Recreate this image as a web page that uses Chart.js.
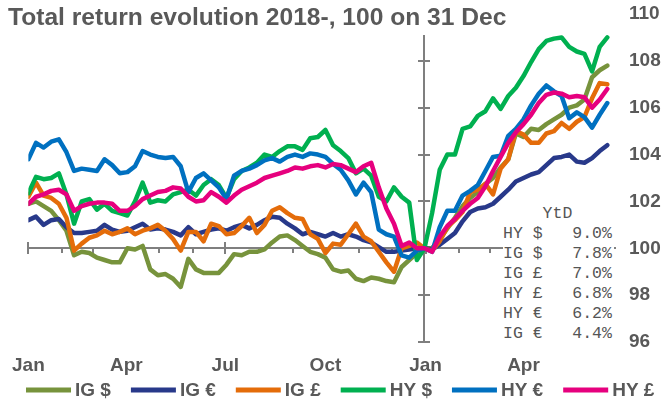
<!DOCTYPE html>
<html>
<head>
<meta charset="utf-8">
<script src="https://cdn.jsdelivr.net/npm/chart.js@4.4.1/dist/chart.umd.min.js"></script>
<style>
  html, body { margin: 0; padding: 0; background: #fff; }
  #wrap { position: relative; width: 667px; height: 406px; overflow: hidden; }
  #chart { position: absolute; left: 0; top: 0; }
  #title { position: absolute; left: 8px; top: 3px; font: bold 24.6px 'Liberation Sans', Arial, sans-serif;
           color: #595959; white-space: nowrap; }
  #ytd { position: absolute; left: 503px; top: 204px; margin: 0; padding: 0 2px 0 0; background: #fff;
         font: 16.5px/20px 'Liberation Mono', 'Courier New', monospace; color: #555; white-space: pre; }
</style>
</head>
<body>
<div id="wrap">
  <canvas id="chart" width="667" height="406"></canvas>
  <div id="title">Total return evolution 2018-, 100 on 31 Dec</div>
  <pre id="ytd"></pre>
</div>
<script>
// Weekly index levels, rebased to 100 on 31 Dec 2018 (week 52)
const igUSD = [101.9, 102.0, 101.8, 101.6, 101.2, 100.75, 99.7, 99.85, 99.8, 99.6,
  99.5, 99.4, 99.4, 100.0, 99.95, 100.1, 99.1, 98.85, 98.9, 98.7,
  98.35, 99.55, 99.1, 98.95, 98.95, 98.95, 99.3, 99.75, 99.7, 99.85,
  99.85, 99.95, 100.25, 100.5, 100.55, 100.35, 100.1, 99.85, 99.75, 99.6,
  99.1, 99.0, 99.05, 98.7, 98.6, 98.75, 98.7, 98.6, 98.55, 99.2,
  99.5, 99.8, 100,
  100.0, 100.4, 100.85, 101.3, 101.8, 102.15, 102.4, 102.75, 103.0, 103.45,
  103.8, 104.9, 104.75, 105.1, 105.05, 105.3, 105.5, 105.7, 106.0, 106.1,
  106.35, 107.3, 107.6, 107.8];

const igEUR = [101.2, 101.35, 101.0, 101.2, 101.25, 100.9, 100.65, 100.65, 100.7, 100.75,
  101.0, 100.8, 100.7, 100.75, 100.9, 101.05, 100.8, 100.85, 100.8, 100.7,
  100.55, 100.9, 100.6, 100.7, 100.8, 100.85, 100.75, 100.9, 101.0, 100.85,
  101.0, 101.2, 101.35, 101.3, 101.05, 100.85, 100.6, 100.7, 100.6, 100.5,
  100.65, 100.5, 100.6, 100.5, 100.35, 100.25, 100.05, 99.85, 99.85, 99.9,
  99.95, 100.0, 100,
  99.95, 100.15, 100.4, 100.65, 101.15, 101.55, 101.7, 101.75, 101.9, 102.2,
  102.5, 102.85, 103.0, 103.15, 103.25, 103.55, 103.85, 103.9, 104.0, 103.7,
  103.65, 103.85, 104.15, 104.4];

const igGBP = [102.2, 102.8, 102.25, 102.15, 101.9, 101.3, 99.9, 100.2, 100.45, 100.55,
  100.75, 100.6, 100.7, 100.85, 100.6, 100.75, 100.85, 101.0, 100.75, 100.4,
  99.9, 100.7, 100.7, 100.3, 101.05, 100.95, 100.6, 100.65, 100.95, 101.3,
  100.65, 101.0, 101.6, 101.75, 101.5, 101.3, 101.25, 100.6, 100.4, 99.8,
  100.2, 100.15, 100.6, 101.05, 100.5, 100.3, 99.85, 99.4, 99.0, 100.0,
  100.1, 100.25, 100,
  99.9, 100.3, 100.9, 101.2, 101.55, 102.4, 102.5, 102.75, 102.3, 103.4,
  103.8, 105.0, 104.85, 104.5, 104.5, 104.9, 105.0, 105.35, 105.1, 105.4,
  105.6, 106.4, 107.05, 107.0];

const hyUSD = [102.35, 103.05, 102.95, 103.0, 103.2, 102.3, 101.05, 102.0, 102.1, 101.65,
  101.9, 101.6, 101.5, 101.4, 102.0, 102.8, 101.95, 102.05, 102.0, 102.3,
  102.4, 102.5, 102.25, 102.7, 102.95, 102.7, 102.15, 102.95, 103.3, 103.45,
  103.65, 104.0, 103.9, 104.15, 104.35, 104.35, 104.2, 104.7, 104.75, 105.05,
  104.4, 104.15, 103.85, 103.2, 103.4, 103.1, 102.2, 102.0, 102.6, 102.2,
  101.95, 99.5, 100,
  101.5, 103.35, 104.0, 104.0, 105.1, 105.2, 105.65, 105.85, 106.4, 105.95,
  106.5, 106.85, 107.35, 107.95, 108.5, 108.85, 108.95, 109.0, 108.6, 108.4,
  108.3, 107.55, 108.6, 109.0];

const hyEUR = [103.8, 104.5, 104.3, 104.55, 104.65, 104.1, 103.3, 103.4, 103.35, 103.3,
  103.8, 103.55, 103.2, 103.25, 103.5, 104.15, 104.0, 103.9, 103.85, 103.9,
  103.5, 102.4, 103.0, 103.2, 102.9, 102.6, 102.1, 103.1, 103.3, 103.4,
  103.55, 103.75, 103.85, 103.7, 103.9, 104.0, 103.9, 104.05, 104.0, 103.9,
  103.6, 103.35, 102.9, 102.3, 102.8, 102.4, 100.8, 100.6, 100.5, 99.7,
  99.6, 99.9, 100,
  99.85, 100.9, 101.6, 101.6, 102.25, 102.45, 102.7, 103.3, 103.9, 103.95,
  104.8, 105.1, 105.5, 106.1, 106.6, 106.95, 106.7, 106.5, 105.55, 105.8,
  105.6, 105.15, 105.7, 106.2];

const hyGBP = [101.9, 102.2, 102.3, 102.45, 102.5, 102.3, 101.6, 101.8, 101.9, 101.95,
  101.95, 101.9, 101.6, 101.6, 101.8, 102.1, 102.25, 102.4, 102.45, 102.6,
  102.55, 102.2, 102.0, 102.05, 102.4, 102.2, 101.95, 102.25, 102.5, 102.65,
  102.8, 103.0, 103.1, 103.2, 103.3, 103.45, 103.4, 103.5, 103.55, 103.45,
  103.6, 103.55, 103.4, 103.25, 103.5, 103.65, 102.6, 101.7, 101.05, 100.1,
  100.25, 100.0, 100,
  99.85, 100.5, 100.95, 101.25, 101.6, 101.9, 102.15, 102.65, 103.3, 103.9,
  104.5, 104.95, 105.3, 105.7, 106.2, 106.55, 106.65, 106.6, 106.45, 106.5,
  106.45, 106.0, 106.35, 106.8];

const seriesNames = ['IG $', 'IG €', 'IG £', 'HY $', 'HY €', 'HY £'];
const seriesValues = [igUSD, igEUR, igGBP, hyUSD, hyEUR, hyGBP];
const seriesColors = ['#77933C', '#28398A', '#E46C0A', '#00B050', '#0070C0', '#E6007E'];

// Axis: days since 1 Jan 2018
const monthStarts = [0, 31, 59, 90, 120, 151, 181, 212, 243, 273, 304, 334, 365, 396, 424, 455, 485, 516];
const halfYearStarts = [0, 181, 365];
const quarterDays = [0, 90, 181, 273, 365, 455];
const quarterLabels = ['Jan', 'Apr', 'Jul', 'Oct', 'Jan', 'Apr'];
const yearEndDay = 364;
const valueTicks = [96, 98, 100, 102, 104, 106, 108, 110];

const days = igUSD.map((_, i) => i * 7);

const FONT = "'Liberation Sans', Arial, sans-serif";
const GREY = '#595959';

// YtD table, sorted by total return
const ytdRows = seriesNames
  .map((name, i) => ({ name, ytd: seriesValues[i][seriesValues[i].length - 1] - 100 }))
  .sort((a, b) => b.ytd - a.ytd);
document.getElementById('ytd').textContent =
  '    YtD\n' + ytdRows.map(r => r.name + '   ' + r.ytd.toFixed(1) + '%').join('\n');

// Cross-shaped axes through (31 Dec, 100), drawn under the series
const crossAxes = {
  id: 'crossAxes',
  beforeDatasetsDraw(chart) {
    const { ctx, chartArea, scales: { x, y } } = chart;
    ctx.save();
    ctx.strokeStyle = '#7f7f7f';
    ctx.lineWidth = 2;
    ctx.beginPath();
    const y0 = Math.round(y.getPixelForValue(100));
    ctx.moveTo(chartArea.left, y0);
    ctx.lineTo(chartArea.right, y0);
    monthStarts.forEach(d => {
      const px = Math.round(x.getPixelForValue(d));
      const major = halfYearStarts.includes(d);
      ctx.moveTo(px, major ? y0 - 6 : y0);
      ctx.lineTo(px, y0 + (major ? 6 : 5));
    });
    const x0 = Math.round(x.getPixelForValue(yearEndDay));
    ctx.moveTo(x0, y.getPixelForValue(96));
    ctx.lineTo(x0, y.getPixelForValue(109.1));
    valueTicks.filter(v => v < 110).forEach(v => {
      const py = Math.round(y.getPixelForValue(v));
      ctx.moveTo(x0 - 6, py);
      ctx.lineTo(x0 + 6, py);
    });
    ctx.stroke();
    ctx.restore();
  }
};

// Single-row legend along the bottom
const bottomLegend = {
  id: 'bottomLegend',
  afterDraw(chart) {
    const { ctx } = chart;
    ctx.save();
    ctx.font = 'bold 19px ' + FONT;
    ctx.textBaseline = 'middle';
    let xPos = 26;
    const yPos = 390;
    chart.data.datasets.forEach(ds => {
      ctx.strokeStyle = ds.borderColor;
      ctx.lineWidth = 5;
      ctx.beginPath();
      ctx.moveTo(xPos, yPos);
      ctx.lineTo(xPos + 45, yPos);
      ctx.stroke();
      ctx.fillStyle = GREY;
      ctx.fillText(ds.label, xPos + 49, yPos + 1);
      xPos += 49 + ctx.measureText(ds.label).width + 20;
    });
    ctx.restore();
  }
};

new Chart(document.getElementById('chart'), {
  type: 'line',
  data: {
    datasets: seriesNames.map((name, i) => ({
      label: name,
      data: seriesValues[i].map((v, k) => ({ x: days[k], y: v })),
      borderColor: seriesColors[i],
      backgroundColor: seriesColors[i],
      borderWidth: 4.5,
      borderJoinStyle: 'round',
      borderCapStyle: 'round',
      pointRadius: 0,
      tension: 0,
      fill: false,
      order: seriesNames.length - i
    }))
  },
  options: {
    responsive: false,
    animation: false,
    devicePixelRatio: 1,
    layout: { padding: { left: 24, top: 14, right: 0, bottom: 0 } },
    plugins: { legend: { display: false }, tooltip: { enabled: false }, title: { display: false } },
    scales: {
      x: {
        type: 'linear',
        min: 0,
        max: 540,
        grid: { display: false, drawTicks: false },
        border: { display: false },
        afterBuildTicks: s => { s.ticks = quarterDays.map(v => ({ value: v })); },
        afterFit: s => { s.height = 64; },
        ticks: {
          autoSkip: false,
          maxRotation: 0,
          padding: 12,
          color: GREY,
          font: { family: FONT, size: 19, weight: 'bold' },
          callback: v => quarterLabels[quarterDays.indexOf(v)] ?? ''
        }
      },
      y: {
        position: 'right',
        min: 96,
        max: 110,
        grid: { display: false, drawTicks: false },
        border: { display: false },
        afterBuildTicks: s => { s.ticks = valueTicks.map(v => ({ value: v })); },
        afterFit: s => { s.width = 51; s.paddingTop = 0; s.paddingBottom = 0; },
        ticks: {
          padding: 13,
          color: GREY,
          font: { family: FONT, size: 19, weight: 'bold' }
        }
      }
    }
  },
  plugins: [crossAxes, bottomLegend]
});
</script>
</body>
</html>
